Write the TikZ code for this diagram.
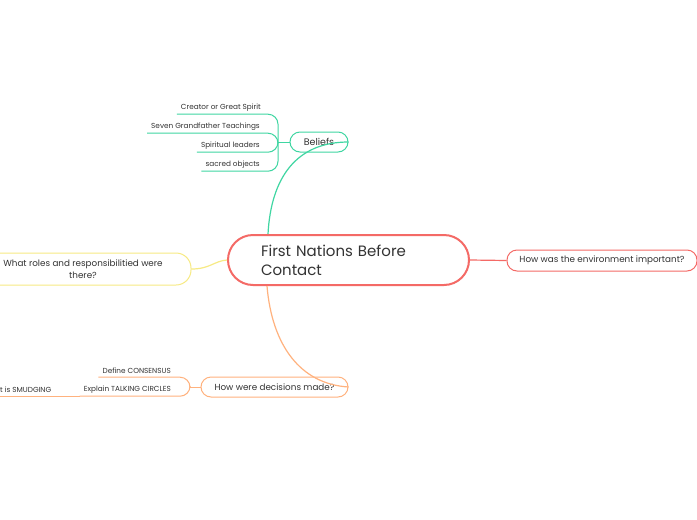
\documentclass[tikz,border=0pt]{standalone}
\usepackage{fontspec}
\setmainfont{Poppins}
\usetikzlibrary{calc}
\definecolor{cred}{HTML}{F46A66}
\definecolor{cgreen}{HTML}{3FD6A2}
\definecolor{cyellow}{HTML}{F7EA84}
\definecolor{corange}{HTML}{FFB27E}
\definecolor{ctext}{HTML}{333333}
\begin{document}
\begin{tikzpicture}[x=1pt,y=-1pt,
  topic/.style={draw, rounded corners=10pt, line width=1pt, fill=white, text=ctext, font=\fontsize{8.8}{12}\selectfont, inner sep=0pt},
  leaf/.style={anchor=east, minimum height=13pt, inner xsep=4pt, inner ysep=0pt, text=ctext, font=\fontsize{7.3}{8}\selectfont},
  conn/.style={line width=1.2pt},
  sub/.style={line width=1pt, rounded corners=10pt}]
\useasboundingbox (0,0) rectangle (697,520);
\fill[white] (0,0) rectangle (697,520);
% central
\node[draw=cred, line width=2pt, rounded corners=25pt, minimum width=241pt, minimum height=50pt,
  text width=175pt, align=left, text=ctext, font=\fontsize{15}{19}\selectfont, inner sep=0pt] (main) at (348.5,260) {First Nations Before\\Contact};
% topics
\node[topic, draw=cgreen, minimum width=58pt, minimum height=20pt, font=\fontsize{9.5}{11}\selectfont] (bel) at (319,142) {Beliefs};
\node[topic, draw=cred, minimum width=190pt, minimum height=21pt] (env) at (602,260.5) {How was the environment important?};
\node[topic, draw=cyellow, rounded corners=15pt, minimum width=216pt, minimum height=32pt, align=center] (rol) at (83,269) {What roles and responsibilitied were\\there?};
\node[topic, draw=corange, minimum width=147pt, minimum height=20pt] (dec) at (274.5,387) {How were decisions made?};
% main connectors
\draw[conn, cgreen] ($(main.north west)+(41,0)$) .. controls (271,178) and (296,142) .. (bel.east);
\draw[conn, corange] ($(main.south west)+(40,0)$) .. controls (272,345) and (300,384) .. (dec.east);
\draw[conn, cred] (main.east) -- (env.west);
\draw[conn, cyellow] (rol.east) .. controls (210,269) and (214,261) .. (main.west);
% beliefs leaves
\coordinate (bj) at (278,142);
\draw[sub, cgreen] (bel.west) -- (bj);
\node[leaf] (b1) at (265,107.5) {Creator or Great Spirit};
\node[leaf] (b2) at (264,126.5) {Seven Grandfather Teachings};
\node[leaf] (b3) at (264,145.5) {Spiritual leaders};
\node[leaf] (b4) at (264,164.5) {sacred objects};
\draw[sub, cgreen] (b1.south west) -| (bj);
\draw[sub, cgreen] (b2.south west) -| (bj);
\draw[sub, cgreen] (b3.south west) -| (bj);
\draw[sub, cgreen] (b4.south west) -| (bj);
% decisions leaves
\coordinate (dj) at (190,387);
\draw[sub, corange] (dec.west) -- (dj);
\node[leaf] (d1) at (175,370.5) {Define CONSENSUS};
\node[leaf] (d2) at (175,389.5) {Explain TALKING CIRCLES};
\node[leaf, anchor=west] (d3) at (-4,389.5) {t is SMUDGING};
\draw[sub, corange] (d1.south west) -| (dj);
\draw[sub, corange] (d2.south west) -| (dj);
\draw[sub, corange] (d3.south west) -- (d2.south west);
\end{tikzpicture}
\end{document}
